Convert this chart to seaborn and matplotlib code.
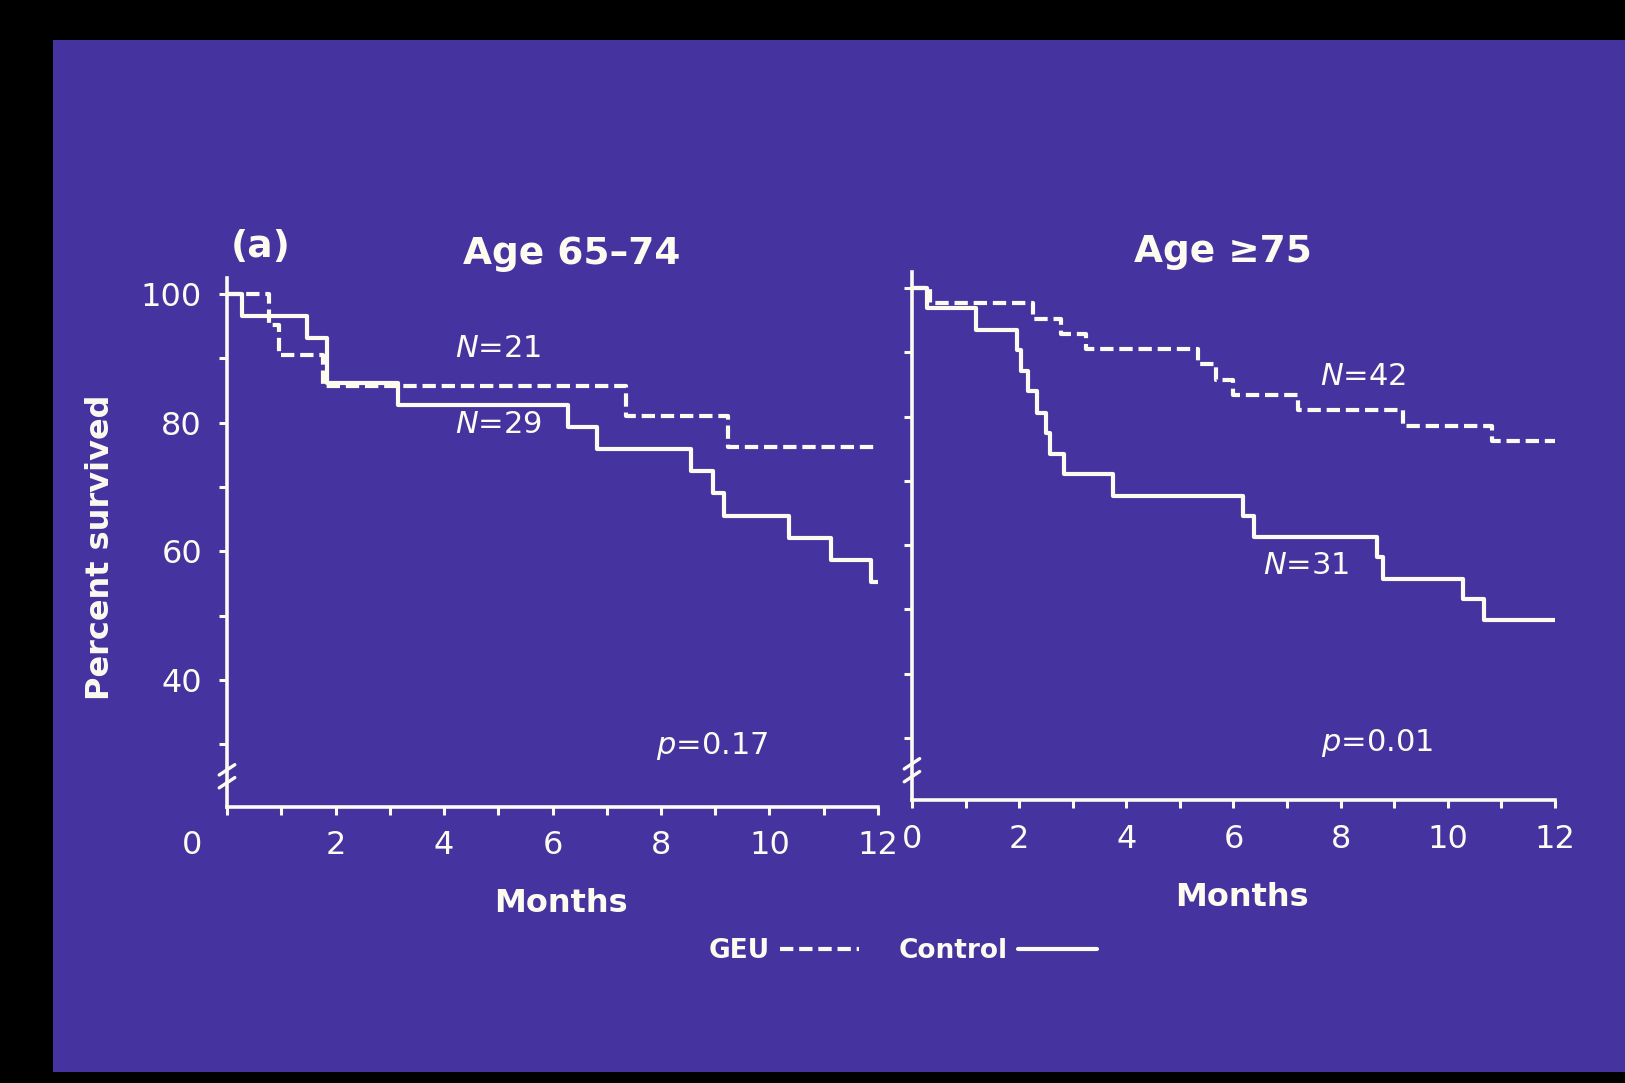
import numpy as np
import pandas as pd
import matplotlib
matplotlib.use('Agg')
import matplotlib.pyplot as plt
import seaborn as sns
from matplotlib.lines import Line2D
from matplotlib.patches import Rectangle

# Kaplan-Meier steps (months, percent survived)
young_geu_months = [0, 0.78, 0.95, 1.77, 7.36, 9.24, 12]
young_geu_pct = [100, 95.2, 90.5, 85.7, 81.0, 76.2, 76.2]
young_ctl_months = [0, 0.27, 1.48, 1.85, 3.16, 6.29, 6.82, 8.55, 8.96, 9.16, 10.36, 11.13, 11.87, 12]
young_ctl_pct = [100, 96.6, 93.1, 86.2, 82.8, 79.3, 75.9, 72.4, 69.0, 65.5, 62.1, 58.6, 55.2, 55.2]
old_geu_months = [0, 0.33, 2.25, 2.79, 3.25, 5.33, 5.67, 6.0, 7.2, 9.17, 10.83, 12]
old_geu_pct = [100, 97.6, 95.2, 92.9, 90.5, 88.1, 85.7, 83.3, 81.0, 78.6, 76.2, 76.2]
old_ctl_months = [0, 0.29, 1.2, 1.96, 2.04, 2.17, 2.33, 2.5, 2.58, 2.83, 3.75, 6.17, 6.38, 8.67, 8.79, 10.29, 10.67, 12]
old_ctl_pct = [100, 96.8, 93.5, 90.3, 87.1, 83.9, 80.6, 77.4, 74.2, 71.0, 67.7, 64.5, 61.3, 58.1, 54.8, 51.6, 48.4, 48.4]

panel_titles = ['Age 65\u201374', 'Age \u226575']
n_labels = [('$N$=21', '$N$=29'), ('$N$=42', '$N$=31')]
p_labels = ['$p$=0.17', '$p$=0.01']
y_ticks = [30, 40, 50, 60, 70, 80, 90, 100]
x_ticks = list(range(13))

FG = '#fdfaf0'
BG = '#4533a0'

sns.set_style('ticks')
plt.rcParams['font.family'] = ['DejaVu Sans']
plt.rcParams['mathtext.fontset'] = 'dejavusans'


def make_frame(geu_m, geu_p, ctl_m, ctl_p):
    a = pd.DataFrame({'month': geu_m, 'pct': geu_p, 'group': 'GEU'})
    b = pd.DataFrame({'month': ctl_m, 'pct': ctl_p, 'group': 'Control'})
    return pd.concat([a, b], ignore_index=True)


frames = [make_frame(young_geu_months, young_geu_pct, young_ctl_months, young_ctl_pct),
          make_frame(old_geu_months, old_geu_pct, old_ctl_months, old_ctl_pct)]

fig = plt.figure(figsize=(16.25, 10.83), dpi=100, facecolor='black')
fig.patches.append(Rectangle((0.0326, 0.0102), 0.98, 0.953, transform=fig.transFigure,
                             facecolor=BG, edgecolor='none', zorder=-10))

ax1 = fig.add_axes([0.1397, 0.2553, 0.4006, 0.4881])
ax2 = fig.add_axes([0.5612, 0.2609, 0.3957, 0.4881])
axes = [ax1, ax2]

dash = (3.2, 1.4)
lw = 3.0
for i, ax in enumerate(axes):
    ax.set_facecolor('none')
    sns.lineplot(data=frames[i], x='month', y='pct', style='group',
                 dashes={'GEU': dash, 'Control': ''}, color=FG, lw=lw,
                 drawstyle='steps-post', estimator=None, sort=False,
                 legend=False, ax=ax)
    ax.set_xlim(0, 12)
    ax.set_ylim(20.3, 102.5)
    sns.despine(ax=ax)
    for s in ['left', 'bottom']:
        ax.spines[s].set_color(FG)
        ax.spines[s].set_linewidth(2.6)
    ax.set_yticks(y_ticks)
    ax.set_xticks(x_ticks)
    ax.tick_params(colors=FG, width=2.2, length=6, labelsize=23, pad=11)
    ax.tick_params(axis='y', pad=12)
    if i == 0:
        ax.set_yticklabels([str(t) if t % 20 == 0 else '' for t in y_ticks])
        ax.set_xticklabels(['' if (t % 2 or t == 0) else str(t) for t in x_ticks])
        ax.set_ylabel('Percent survived', color=FG, fontsize=23, fontweight='bold')
        ax.yaxis.set_label_coords(-0.17, 0.49)
    else:
        ax.set_yticklabels([])
        ax.set_xticklabels(['' if t % 2 else str(t) for t in x_ticks])
        ax.set_ylabel('')
    ax.set_xlabel('Months', color=FG, fontsize=23, fontweight='bold')
    ax.xaxis.set_label_coords(0.513, -0.155)
    # axis break mark
    for yb in (24.0, 26.0):
        ax.plot([-0.012, 0.012], [yb - 0.8, yb + 0.8], color=FG, lw=2.4,
                transform=ax.get_yaxis_transform(), clip_on=False)

txt = dict(color=FG, fontsize=22, ha='center', va='center')
ax1.text(5.0, 91.5, n_labels[0][0], **txt)
ax1.text(5.0, 79.7, n_labels[0][1], **txt)
ax1.text(8.95, 29.7, p_labels[0], **txt)
ax2.text(8.41, 86.3, n_labels[1][0], **txt)
ax2.text(7.35, 56.9, n_labels[1][1], **txt)
ax2.text(8.67, 29.2, p_labels[1], **txt)

fig.text(261 / 1625, 1 - 247 / 1083, '(a)', color=FG, fontsize=27, fontweight='bold',
         ha='center', va='center')
fig.text(572 / 1625, 1 - 254 / 1083, panel_titles[0], color=FG, fontsize=27,
         fontweight='bold', ha='center', va='center')
fig.text(1223 / 1625, 1 - 252 / 1083, panel_titles[1], color=FG, fontsize=27,
         fontweight='bold', ha='center', va='center')
fig.text(192 / 1625, 1 - 845 / 1083, '0', color=FG, fontsize=23, ha='center', va='center')

handles = [Line2D([], [], color=FG, lw=lw, dashes=dash), Line2D([], [], color=FG, lw=lw)]
fig.legend(handles=handles, labels=['GEU', 'Control'], markerfirst=False, ncol=2,
           frameon=False, loc='center', bbox_to_anchor=(0.5556, 0.122),
           handlelength=3.0, columnspacing=1.5, handletextpad=0.4, labelcolor=FG,
           prop={'weight': 'bold', 'size': 19})

fig.savefig('out.png', dpi=100, facecolor=fig.get_facecolor())
